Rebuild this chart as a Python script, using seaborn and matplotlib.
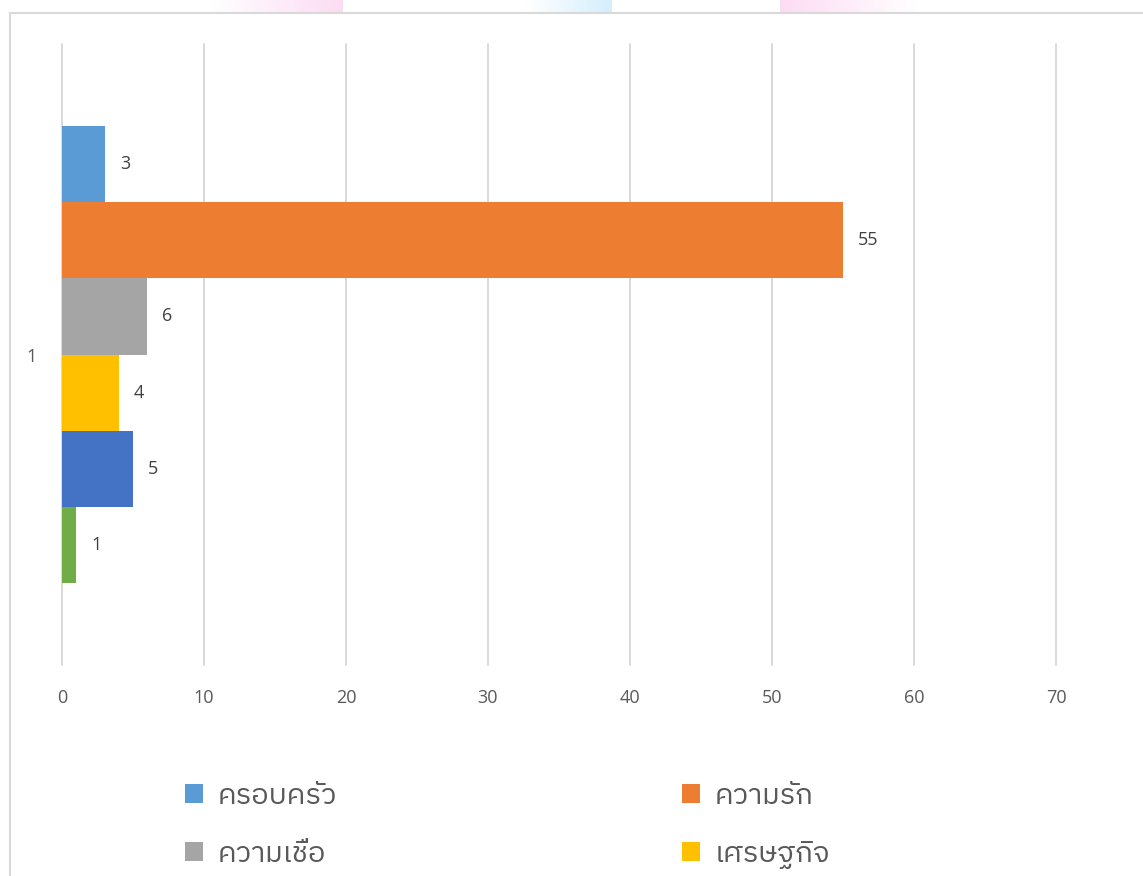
import numpy as np
import pandas as pd
import matplotlib
matplotlib.use("Agg")
import matplotlib.pyplot as plt
import seaborn as sns
from matplotlib import font_manager
from matplotlib.ft2font import FT2Font
from matplotlib.patches import Rectangle

# ---------------- data ----------------
categories = ["1"]
series = ["ครอบครัว", "ความรัก", "ความเชื่อ", "เศรษฐกิจ", "ชุดที่ 5", "ชุดที่ 6"]
values = [3, 55, 6, 4, 5, 1]
colors = ["#5B9BD5", "#ED7D31", "#A5A5A5", "#FFC000", "#4472C4", "#70AD47"]
xticks = [0, 10, 20, 30, 40, 50, 60, 70]
legend_series = series[:4]

# ---------------- fonts ----------------
thai_font = None
for f in font_manager.fontManager.ttflist:
    try:
        cm = FT2Font(f.fname).get_charmap()
        if 0x0E04 in cm and 0x0E23 in cm and 0x0E31 in cm:
            thai_font = f.name
            if "Sans" in f.name:
                break
    except Exception:
        pass

sns.set_theme(style="white")
fam = ([thai_font] if thai_font else []) + ["Open Sans", "DejaVu Sans"]
plt.rcParams["font.family"] = fam
num_fam = ["Open Sans", "DejaVu Sans"]

W, H = 1143, 876
fig = plt.figure(figsize=(W / 100, H / 100), dpi=100)
fig.patch.set_facecolor("white")

ax = fig.add_axes([62 / W, (H - 665) / H, (1056 - 62) / W, (665 - 44) / H])

df = pd.DataFrame({
    "cat": categories * len(series),
    "series": series,
    "value": values,
})

sns.barplot(data=df, x="value", y="cat", hue="series", hue_order=series,
            palette=colors, orient="h", width=0.7375, saturation=1,
            ax=ax, legend=True, errorbar=None, linewidth=0, edgecolor="none")

handles, labels = ax.get_legend_handles_labels()
if ax.legend_ is not None:
    ax.legend_.remove()

for cont in ax.containers:
    ax.bar_label(cont, padding=11, fontsize=13, color="#404040", family=num_fam)

ax.set_xlim(0, 70)
ax.set_xticks(xticks)
ax.set_xticklabels([str(t) for t in xticks], family=num_fam)
ax.set_xlabel("")
ax.set_ylabel("")
ax.grid(axis="x", color="#d9d9d9", lw=1.4)
ax.grid(axis="y", visible=False)
ax.set_axisbelow(True)
for ln in ax.get_xgridlines():
    ln.set_clip_on(False)
for s in ax.spines.values():
    s.set_visible(False)
ax.tick_params(axis="x", length=0, pad=17, labelsize=13, labelcolor="#595959")
ax.tick_params(axis="y", length=0, pad=18, labelsize=13, labelcolor="#595959")
for t in ax.get_yticklabels():
    t.set_family(num_fam)

# ---------------- legend (two columns) ----------------
hmap = dict(zip(labels, handles))
fs = 21
px = fs * 100 / 72
kw = dict(frameon=False, fontsize=fs, handlelength=18 / px,
          handleheight=18 / px, handletextpad=0.5,
          labelspacing=1.05, borderpad=0, borderaxespad=0, loc="upper left",
          labelcolor="#595959")
col1 = [legend_series[0], legend_series[2]]
col2 = [legend_series[1], legend_series[3]]
fig.legend([hmap[l] for l in col1], col1,
           bbox_to_anchor=(185 / W, 1 - 783 / H), **kw)
fig.legend([hmap[l] for l in col2], col2,
           bbox_to_anchor=(682 / W, 1 - 783 / H), **kw)

# ---------------- frame & decorations ----------------
fig.add_artist(Rectangle((10 / W, -0.2), 1.5, (H - 13) / H + 0.2,
                         transform=fig.transFigure, fill=False,
                         ec="#d9d9d9", lw=1.5))

def grad_box(x0, x1, c, reverse=False):
    a = fig.add_axes([x0 / W, (H - 13) / H, (x1 - x0) / W, 13 / H])
    g = np.linspace(0, 1, 100)
    if reverse:
        g = g[::-1]
    rgb = np.array(matplotlib.colors.to_rgb(c))
    img = np.ones((1, 100, 3)) * (1 - g[None, :, None]) + rgb * g[None, :, None]
    a.imshow(img, aspect="auto", extent=[0, 1, 0, 1])
    a.axis("off")

grad_box(211, 343, "#fcdcf3")
grad_box(527, 612, "#d4eefc")
grad_box(780, 918, "#fcdcf3", reverse=True)

fig.savefig("out.png", dpi=100, facecolor="white")
